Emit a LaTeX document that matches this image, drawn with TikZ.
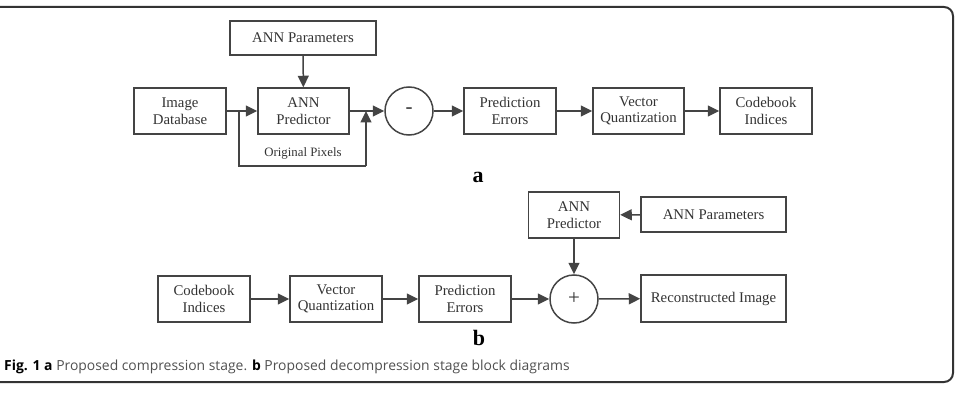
\documentclass[tikz,border=0pt]{standalone}
\usepackage{fontspec}
\setmainfont{Liberation Serif}
\newfontfamily\capfont{Open Sans}
\usetikzlibrary{arrows.meta,positioning}
\definecolor{boxline}{HTML}{444444}
\definecolor{boxtext}{HTML}{333333}
\definecolor{captext}{HTML}{505050}
\definecolor{framecol}{HTML}{333333}
\tikzset{
  blk/.style={draw=boxline, line width=1.5pt, text=boxtext, align=center,
    minimum width=92pt, minimum height=46pt, inner sep=2pt,
    font=\fontsize{14.8}{16.5}\selectfont},
  wideblk/.style={blk, minimum width=146pt, minimum height=34pt},
  sumnode/.style={draw=boxline, line width=1.5pt, circle, minimum size=48pt, inner sep=0pt,
    text=boxtext, font=\fontsize{21}{22}\selectfont},
  conn/.style={draw=boxline, line width=1.5pt, -{Triangle[length=11.5pt,width=11pt]}},
  plain/.style={draw=boxline, line width=1.5pt},
  sublabel/.style={font=\bfseries\fontsize{22}{23}\selectfont, text=black},
}
\begin{document}
\begin{tikzpicture}[x=1pt,y=-1pt]
\useasboundingbox (0,0) rectangle (955,406);
% frame
\draw[framecol, line width=2pt, rounded corners=9pt] (0,7) -- (953,7) -- (953,382) -- (0,382);
% ---- part a
\node[wideblk] (annparA) at (303,38) {ANN Parameters};
\node[blk] (imgdb) at (180,111) {Image\\Database};
\node[blk, minimum width=91pt] (annpredA) at (303.5,111) {ANN\\Predictor};
\node[sumnode] (minus) at (409,111) {-};
\node[blk] (perrA) at (510,111) {Prediction\\Errors};
\node[blk, minimum width=91pt] (vqA) at (638.5,111) {Vector\\Quantization};
\node[blk] (cbA) at (766,111) {Codebook\\Indices};
\node[sublabel] (labA) at (478,177) {a};
\coordinate (split) at (239,111);
\coordinate (fbturn) at (366,166);
\coordinate (fbend) at (366,111);
\draw[conn] (annparA) -- (annpredA);
\draw[conn] (imgdb) -- (annpredA);
\draw[conn] (annpredA) -- (minus);
\draw[plain] (split) |- (fbturn);
\draw[conn] (fbturn) -- (fbend);
\node[text=boxtext, font=\fontsize{12.8}{14}\selectfont] (orig) at (303,153) {Original Pixels};
\draw[conn] (minus) -- (perrA);
\draw[conn] (perrA) -- (vqA);
\draw[conn] (vqA) -- (cbA);
% ---- part b
\node[blk, minimum width=91pt] (annpredB) at (574,215) {ANN\\Predictor};
\node[wideblk, minimum width=145pt, minimum height=35pt] (annparB) at (713.5,214.5) {ANN Parameters};
\node[blk] (cbB) at (204,299) {Codebook\\Indices};
\node[blk] (vqB) at (336,299) {Vector\\Quantization};
\node[blk] (perrB) at (465,299) {Prediction\\Errors};
\node[sumnode] (plus) at (574,299) {+};
\node[blk, minimum width=145pt, minimum height=47pt] (recon) at (713.5,298.5) {Reconstructed Image};
\node[sublabel] (labB) at (479,338) {b};
\draw[conn] (annparB) -- (annpredB);
\draw[conn] (annpredB) -- (plus);
\draw[conn] (cbB) -- (vqB);
\draw[conn] (vqB) -- (perrB);
\draw[conn] (perrB) -- (plus);
\draw[conn] (plus) -- (recon);
% caption
\node[anchor=base west, inner sep=0pt, text=captext, font=\capfont\fontsize{13.9}{16}\selectfont] (cap) at (4,370)
  {\textcolor{black}{\bfseries Fig. 1 a} Proposed compression stage. \textcolor{black}{\bfseries b} Proposed decompression stage block diagrams};
\end{tikzpicture}
\end{document}
